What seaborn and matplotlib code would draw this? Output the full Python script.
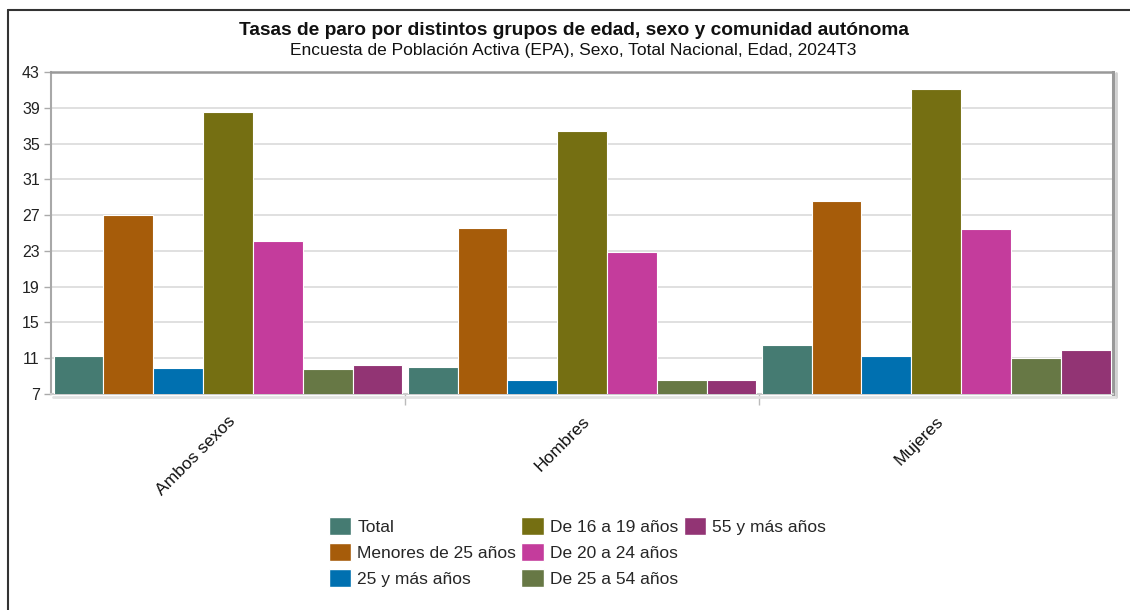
import matplotlib
matplotlib.use("Agg")
import matplotlib.pyplot as plt
from matplotlib.lines import Line2D
from matplotlib.patches import Patch
import pandas as pd
import seaborn as sns

# datos (EPA 2024T3)
sexos = ["Ambos sexos", "Hombres", "Mujeres"]
grupos = ["Total", "Menores de 25 años", "25 y más años", "De 16 a 19 años",
          "De 20 a 24 años", "De 25 a 54 años", "55 y más años"]
total = [11.2, 10.0, 12.5]
menores25 = [27.0, 25.6, 28.6]
mas25 = [9.9, 8.6, 11.2]
de16a19 = [38.5, 36.4, 41.1]
de20a24 = [24.1, 22.9, 25.5]
de25a54 = [9.8, 8.6, 11.0]
mas55 = [10.2, 8.6, 11.9]
colores = ["#457b72", "#a65c0a", "#0070b0", "#756f12", "#c43c9c", "#677845", "#923474"]
yticks = list(range(7, 44, 4))

series = [total, menores25, mas25, de16a19, de20a24, de25a54, mas55]
filas = []
for g, vals in zip(grupos, series):
    for s, v in zip(sexos, vals):
        filas.append({"Sexo": s, "Grupo": g, "Tasa": v})
df = pd.DataFrame(filas)

sns.set_theme(style="white")
plt.rcParams["font.family"] = ["Liberation Sans", "DejaVu Sans"]

fig = plt.figure(figsize=(11.3, 6.1), dpi=100)
ax = fig.add_axes([0.0451, 0.354, 0.940, 0.528])

sns.barplot(data=df, x="Sexo", y="Tasa", hue="Grupo", order=sexos, hue_order=grupos,
            palette=colores, saturation=1, width=0.985, edgecolor="white", linewidth=0.8,
            errorbar=None, ax=ax, legend=False, zorder=3)

ax.set_ylim(7, 43)
ax.set_xlim(-0.5, 2.5)
ax.set_yticks(yticks)
ax.set_yticklabels([str(t) for t in yticks], fontsize=11.5, color="#222222")
ax.yaxis.grid(True, color="#dddddd", linewidth=1.3, zorder=0)
ax.set_axisbelow(True)
ax.set_xlabel("")
ax.set_ylabel("")

ax.tick_params(axis="y", length=5, width=1, color="#aaaaaa", pad=3, left=True)
ax.set_xticks([0, 1, 2])
ax.set_xticklabels(sexos, rotation=45, ha="right", rotation_mode="anchor",
                   fontsize=12.5, color="#111111")
ax.tick_params(axis="x", length=0, pad=14)
ax.set_xticks([0.5, 1.5], minor=True)
ax.tick_params(axis="x", which="minor", length=8, width=1, color="#bbbbbb", bottom=True)

for lado in ["left", "top", "right", "bottom"]:
    ax.spines[lado].set_visible(True)
ax.spines["left"].set_color("#a8a8a8")
ax.spines["left"].set_linewidth(1.5)
ax.spines["top"].set_color("#999999")
ax.spines["top"].set_linewidth(1.8)
ax.spines["right"].set_color("#999999")
ax.spines["right"].set_linewidth(2.2)
ax.spines["bottom"].set_color("#cccccc")
ax.spines["bottom"].set_linewidth(1.5)
# sombra del marco
fig.add_artist(Line2D([0.9875, 0.9875], [0.350, 0.880], color="#d0d0d0", linewidth=2.0,
                      transform=fig.transFigure))
fig.add_artist(Line2D([0.047, 0.987], [0.3495, 0.3495], color="#e2e2e2", linewidth=2.0,
                      transform=fig.transFigure))

# marco de la captura
fig.add_artist(Line2D([0.0075, 0.0075], [0.0, 0.984], color="#333333", linewidth=1.5,
                      transform=fig.transFigure))
fig.add_artist(Line2D([0.0075, 1.0], [0.984, 0.984], color="#333333", linewidth=1.5,
                      transform=fig.transFigure))

fig.text(0.508, 0.950, "Tasas de paro por distintos grupos de edad, sexo y comunidad autónoma",
         ha="center", va="center", fontsize=13.8, fontweight="bold", color="#111111")
fig.text(0.507, 0.917, "Encuesta de Población Activa (EPA), Sexo, Total Nacional, Edad, 2024T3",
         ha="center", va="center", fontsize=12.5, color="#111111")

# leyenda 3 columnas (3, 3, 1)
handles = [Patch(facecolor=c, edgecolor="white") for c in colores]
labels = list(grupos)
vacio = Patch(facecolor="none", edgecolor="none")
handles = handles + [vacio, vacio]
labels = labels + ["", ""]
fig.legend(handles, labels, ncol=3, loc="center", bbox_to_anchor=(0.511, 0.095),
           frameon=False, fontsize=12.5, handlelength=1.3, handleheight=1.25,
           handletextpad=0.35, columnspacing=0.3, labelspacing=0.45, borderpad=0)

fig.savefig("out.png", dpi=100, facecolor="white")
